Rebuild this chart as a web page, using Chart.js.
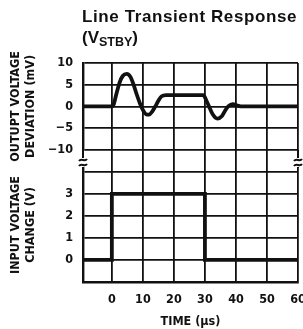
<!DOCTYPE html>
<html>
<head>
<meta charset="utf-8">
<script src="https://cdn.jsdelivr.net/npm/chart.js@4.4.1/dist/chart.umd.min.js"></script>
<style>
  html, body { margin: 0; padding: 0; background: #fff; }
  canvas { display: block; }
</style>
</head>
<body>
<canvas id="grafico" width="303" height="329"></canvas>
<script>
// Dados (tempo em µs)
const tempoSaida = [-9.3, 0, 0.5, 1.5, 2.5, 3.5, 4.8, 6, 7, 8, 9, 10, 11, 12, 13, 14, 15, 16, 17.5, 29.5, 30.5, 31.5, 32.5, 34, 35.5, 36.5, 37.5, 39, 40.5, 42, 60];
const desvioSaida = [0, 0, 0.3, 3, 5.5, 7, 7.5, 6.8, 5, 2.8, 0.8, -0.8, -1.8, -1.9, -1.2, 0, 1.3, 2.3, 2.6, 2.6, 1.3, -0.3, -1.8, -2.8, -2.2, -1.0, 0, 0.5, 0.2, 0, 0];

const tempoEntrada = [-9.3, 0, 0, 30, 30, 60];
const tensaoEntrada = [0, 0, 3, 3, 0, 0];

// Ticks dos eixos
const ticksX = [0, 10, 20, 30, 40, 50, 60];
const ticksSaida = [10, 5, 0, -5, -10];
const ticksEntrada = [-1, 0, 1, 2, 3, 4];
const rotulosEntrada = [3, 2, 1, 0];

const fonteEixo = { family: "'Liberation Sans Narrow', 'DejaVu Sans Condensed', 'Arial Narrow', 'Liberation Sans', sans-serif", size: 12.5, weight: 'bold' };
const corLinha = '#111';
const larguraEixoY = 83;
const larguraGrade = 1.8;

const rotuloEntrada = v => rotulosEntrada.includes(Math.round(v)) ? String(Math.round(v)) : ' ';

// Título (com subscrito) desenhado no próprio canvas
const tituloPlugin = {
    id: 'titulo',
    afterDraw(chart) {
        const ctx = chart.ctx;
        const esq = chart.chartArea.left - 1;
        ctx.save();
        ctx.fillStyle = corLinha;
        ctx.textAlign = 'left';
        ctx.textBaseline = 'alphabetic';
        ctx.font = "bold 17px 'Liberation Sans', Arial, sans-serif";
        if ('letterSpacing' in ctx) ctx.letterSpacing = '0.6px';
        ctx.fillText('Line Transient Response', esq, 21.5);
        if ('letterSpacing' in ctx) ctx.letterSpacing = '0px';
        let px = esq;
        ctx.fillText('(V', px, 43);
        px += ctx.measureText('(V').width;
        ctx.font = "bold 12.5px 'Liberation Sans', Arial, sans-serif";
        ctx.fillText('STBY', px, 46);
        px += ctx.measureText('STBY').width;
        ctx.font = "bold 17px 'Liberation Sans', Arial, sans-serif";
        ctx.fillText(')', px, 43);
        ctx.restore();
    }
};

// Marcas de quebra (≈) nas bordas esquerda e direita
const quebraPlugin = {
    id: 'quebra',
    afterDraw(chart) {
        const ctx = chart.ctx;
        const yT = chart.scales.yTop, yB = chart.scales.yBot, xs = chart.scales.x;
        const meio = yB.top - 5;
        const bordas = [chart.chartArea.left, xs.getPixelForValue(60)];
        ctx.save();
        ctx.strokeStyle = corLinha;
        ctx.lineWidth = 2;
        bordas.forEach(bx => {
            ctx.fillStyle = '#fff';
            ctx.fillRect(bx - 4, meio - 5, 8, 9);
            ctx.beginPath();
            ctx.moveTo(bx, yT.bottom);
            ctx.lineTo(bx, meio - 5);
            ctx.moveTo(bx, meio + 4);
            ctx.lineTo(bx, yB.top);
            ctx.stroke();
            [meio - 3, meio + 2].forEach(sy => {
                ctx.beginPath();
                ctx.moveTo(bx - 4, sy + 1);
                ctx.bezierCurveTo(bx - 2, sy - 2, bx + 2, sy + 2, bx + 4, sy - 1);
                ctx.stroke();
            });
        });
        ctx.restore();
    }
};

new Chart(document.getElementById('grafico'), {
    type: 'line',
    data: {
        datasets: [
            {
                data: tempoSaida.map((t, i) => ({ x: t, y: desvioSaida[i] })),
                yAxisID: 'yTop',
                borderColor: corLinha,
                borderWidth: 3.8,
                pointRadius: 0,
                cubicInterpolationMode: 'monotone',
                fill: false
            },
            {
                data: tempoEntrada.map((t, i) => ({ x: t, y: tensaoEntrada[i] })),
                yAxisID: 'yBot',
                borderColor: corLinha,
                borderWidth: 3.8,
                pointRadius: 0,
                tension: 0,
                fill: false
            }
        ]
    },
    options: {
        responsive: false,
        animation: false,
        layout: { padding: { top: 63, right: 5, left: 0, bottom: 0 } },
        plugins: { legend: { display: false }, tooltip: { enabled: false } },
        scales: {
            x: {
                type: 'linear',
                min: -9.3,
                max: 60,
                afterBuildTicks: ax => { ax.ticks = ticksX.map(v => ({ value: v })); },
                afterFit: ax => { ax.height = 47; ax.paddingLeft = 0; ax.paddingRight = 0; },
                grid: { color: corLinha, lineWidth: larguraGrade, drawTicks: false },
                border: { color: corLinha, width: 2.4 },
                ticks: { color: corLinha, font: fonteEixo, padding: 10, maxRotation: 0, autoSkip: false },
                title: { display: true, text: 'TIME (µs)', color: corLinha, font: fonteEixo, padding: { top: 0, bottom: 0 } }
            },
            yBot: {
                type: 'linear',
                position: 'left',
                stack: 'y',
                stackWeight: 114,
                min: -1,
                max: 4.17,
                afterBuildTicks: ax => { ax.ticks = ticksEntrada.map(v => ({ value: v })); },
                afterFit: ax => { ax.width = larguraEixoY; ax.paddingTop = 0; ax.paddingBottom = 0; },
                grid: { color: corLinha, lineWidth: larguraGrade, drawTicks: false },
                border: { color: corLinha, width: 2.4 },
                ticks: { color: corLinha, font: fonteEixo, padding: 10, autoSkip: false, callback: rotuloEntrada },
                title: { display: true, text: ['INPUT VOLTAGE', 'CHANGE (V)'], color: corLinha, font: fonteEixo, padding: { top: 8, bottom: 0 } }
            },
            yGap: {
                type: 'linear',
                position: 'left',
                stack: 'y',
                stackWeight: 18.2,
                min: 0,
                max: 1,
                afterFit: ax => { ax.width = larguraEixoY; },
                grid: { display: false },
                border: { display: false },
                ticks: { display: false }
            },
            yTop: {
                type: 'linear',
                position: 'left',
                stack: 'y',
                stackWeight: 86.8,
                min: -10,
                max: 10,
                afterBuildTicks: ax => { ax.ticks = ticksSaida.map(v => ({ value: v })); },
                afterFit: ax => { ax.width = larguraEixoY; ax.paddingTop = 0; ax.paddingBottom = 0; },
                grid: { color: corLinha, lineWidth: larguraGrade, drawTicks: false },
                border: { color: corLinha, width: 2.4 },
                ticks: {
                    color: corLinha, font: fonteEixo, padding: 10, autoSkip: false,
                    callback: v => v < 0 ? '\u2212' + Math.abs(v) : String(v)
                },
                title: { display: true, text: ['OUTUPT VOLTAGE', 'DEVIATION (mV)'], color: corLinha, font: fonteEixo, padding: { top: 8, bottom: 0 } }
            }
        }
    },
    plugins: [tituloPlugin, quebraPlugin]
});
</script>
</body>
</html>
